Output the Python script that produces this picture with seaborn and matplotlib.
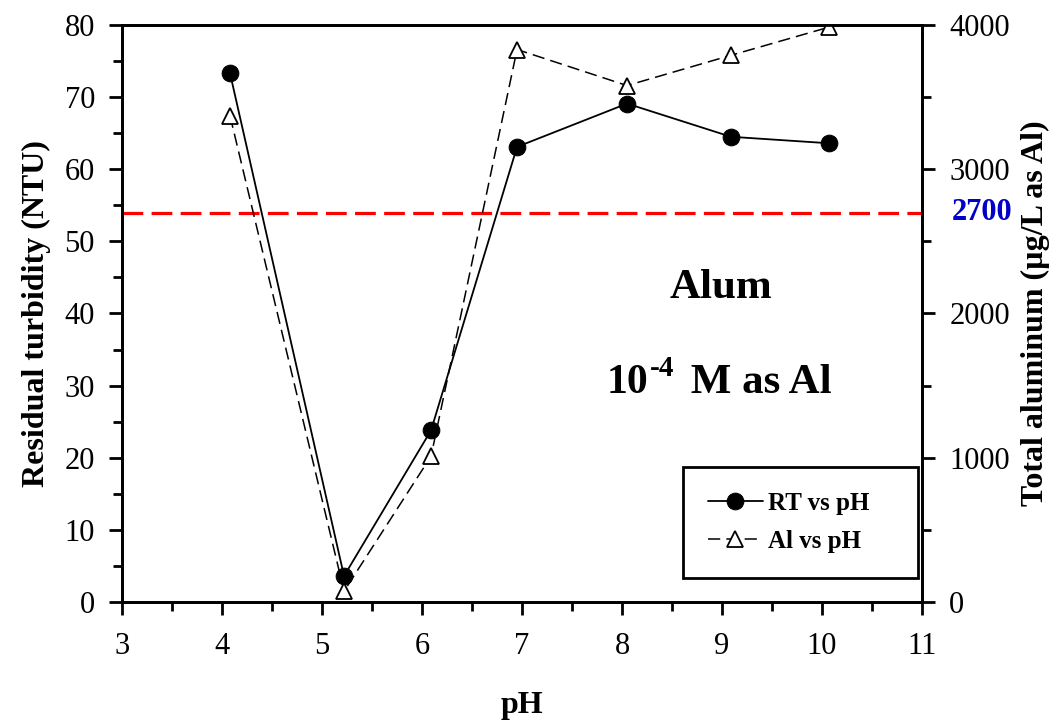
import pandas as pd
import seaborn as sns
import matplotlib.pyplot as plt
from matplotlib.ticker import MultipleLocator
import matplotlib.transforms as mtransforms

ph = [4.08, 5.22, 6.09, 6.95, 8.05, 9.09, 10.07]
residual_turbidity = [73.3, 3.6, 23.8, 63.1, 69.1, 64.5, 63.6]
total_aluminum = [3370, 75, 1010, 3830, 3580, 3790, 3985]
limit_al = 2700

if __name__ == '__main__':
    sns.set_style("ticks")
    plt.rcParams['font.family'] = ['Liberation Serif', 'DejaVu Serif']
    for key in ("text.color", "axes.labelcolor", "xtick.color", "ytick.color", "axes.edgecolor"):
        plt.rcParams[key] = "black"

    trial = pd.DataFrame({"pH": ph, "RT": residual_turbidity, "Al": total_aluminum})

    figure = plt.figure(figsize=(10.63, 7.22), dpi=100)
    axis = figure.add_axes([0.1148, 0.1662, 0.7526, 0.7992])
    axis2 = axis.twinx()

    sns.lineplot(x="pH", y="RT", data=trial, ax=axis, color="black", linewidth=1.3,
                 marker="o", markersize=12, markerfacecolor="black",
                 markeredgecolor="black", label="RT vs pH", legend=False)
    sns.lineplot(x="pH", y="Al", data=trial, ax=axis2, color="black", linewidth=1.1,
                 linestyle=(0, (8, 4)), marker="^", markersize=12,
                 markerfacecolor="white", markeredgecolor="black", markeredgewidth=1.3,
                 label="Al vs pH", legend=False)

    # red guide line at 2700 ug/L
    axis2.axhline(limit_al, color="red", linewidth=2.3, linestyle=(0, (6.5, 2.6)), zorder=1)

    axis.set_xlim(3, 11)
    axis.set_ylim(0, 80)
    axis2.set_ylim(0, 4000)
    axis.xaxis.set_major_locator(MultipleLocator(1))
    axis.xaxis.set_minor_locator(MultipleLocator(0.5))
    axis.yaxis.set_major_locator(MultipleLocator(10))
    axis.yaxis.set_minor_locator(MultipleLocator(5))
    axis2.yaxis.set_major_locator(MultipleLocator(1000))
    axis2.yaxis.set_minor_locator(MultipleLocator(500))

    for ax in (axis, axis2):
        for spine in ax.spines.values():
            spine.set_visible(True)
            spine.set_linewidth(2)
            spine.set_color("black")
        ax.tick_params(which="major", direction="out", length=9.5, width=2,
                       labelsize=22, colors="black", pad=10)
        ax.tick_params(which="minor", direction="out", length=6.5, width=2)
    axis.tick_params(axis="x", which="major", pad=12)

    axis.set_xlabel("pH", fontsize=23, fontweight="bold", labelpad=22)
    axis.set_ylabel("Residual turbidity (NTU)", fontsize=23, fontweight="bold", labelpad=10)
    axis2.set_ylabel("Total aluminum (µg/L as Al)", fontsize=23, fontweight="bold", labelpad=8)

    trans = mtransforms.blended_transform_factory(axis2.transAxes, axis2.transData)
    axis2.text(1.0 + 30 / 800, limit_al, "2700", transform=trans, color="#0000c8",
               fontsize=22, fontweight="bold", va="center", ha="left")

    axis.text(0.749, 0.545, "Alum", transform=axis.transAxes, fontsize=31,
              fontweight="bold", ha="center", va="center")
    base_y = 0.362
    ten = axis.text(0.606, base_y, "10", transform=axis.transAxes, fontsize=30,
                    fontweight="bold", ha="left", va="baseline")
    sup = axis.annotate("-4", xy=(1, base_y), xycoords=(ten, axis.transAxes),
                        xytext=(1, 12), textcoords="offset points", fontsize=21,
                        fontweight="bold", ha="left", va="baseline")
    axis.annotate(" M as Al", xy=(1, base_y), xycoords=(sup, axis.transAxes),
                  xytext=(4, 0), textcoords="offset points", fontsize=31,
                  fontweight="bold", ha="left", va="baseline")

    handles = axis.get_lines()[:1] + axis2.get_lines()[:1]
    legend = axis2.legend(handles, ["RT vs pH", "Al vs pH"], loc="lower left",
                          bbox_to_anchor=(0.701, 0.0416, 0.294, 0.199), mode="expand",
                          borderaxespad=0, fancybox=False, framealpha=1,
                          edgecolor="black", prop={"size": 18, "weight": "bold"},
                          handlelength=2.2, handletextpad=0.2, borderpad=1.0,
                          labelspacing=0.6)
    legend.get_frame().set_linewidth(2)

    figure.savefig("out.png", dpi=100)
